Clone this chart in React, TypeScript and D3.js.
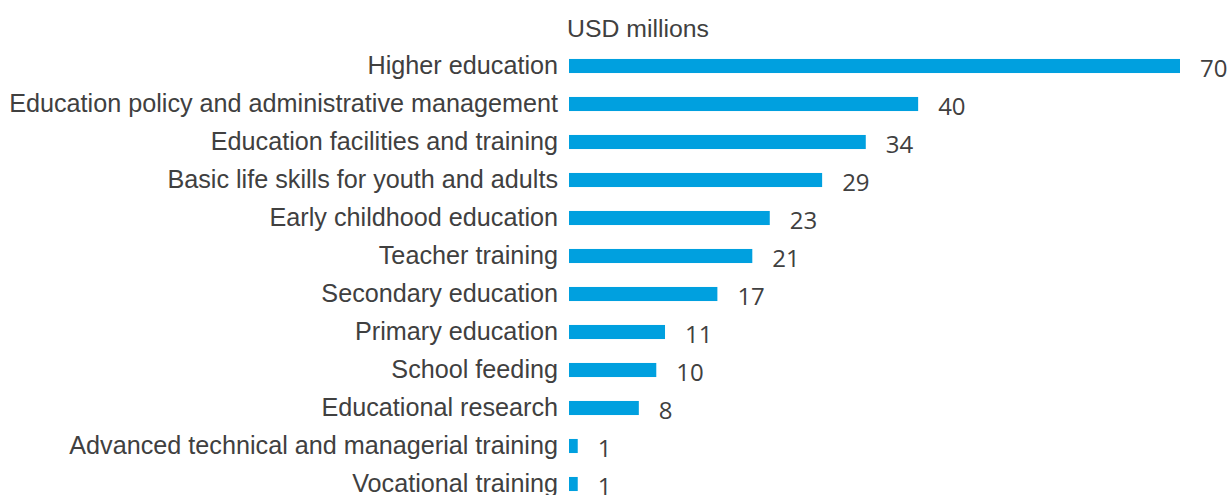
import React from "react";
import * as d3 from "d3";

const categories = [
  "Higher education",
  "Education policy and administrative management",
  "Education facilities and training",
  "Basic life skills for youth and adults",
  "Early childhood education",
  "Teacher training",
  "Secondary education",
  "Primary education",
  "School feeding",
  "Educational research",
  "Advanced technical and managerial training",
  "Vocational training",
];
const values = [70, 40, 34, 29, 23, 21, 17, 11, 10, 8, 1, 1];
const unitLabel = "USD millions";

const W = 1229;
const H = 495;
const x0 = 569;

export default function App() {
  const x = d3.scaleLinear().domain([0, 70]).range([x0, 1180]);
  const y = d3
    .scaleBand<string>()
    .domain(categories)
    .range([47, 503])
    .paddingInner(0.63)
    .paddingOuter(0.315);
  const bh = y.bandwidth();
  return (
    <svg
      width={W}
      height={H}
      style={{ position: "absolute", left: 0, top: 0, background: "#fff" }}
    >
      <text
        x={567}
        y={37}
        fontFamily="Liberation Sans, Arial, sans-serif"
        fontSize={24.8}
        fill="#404040"
      >
        {unitLabel}
      </text>
      {categories.map((c, i) => {
        const yc = (y(c) as number) + bh / 2;
        return (
          <g key={c}>
            <rect
              x={x(0)}
              y={y(c)}
              width={x(values[i]) - x(0)}
              height={bh}
              fill="#00A0DF"
            />
            <text
              x={558}
              y={yc + 8}
              textAnchor="end"
              fontFamily="Liberation Sans, Arial, sans-serif"
              fontSize={25.2}
              fill="#404040"
            >
              {c}
            </text>
            <text
              x={x(values[i]) + 20}
              y={yc + 11}
              fontFamily="Open Sans, sans-serif"
              fontSize={24}
              fill="#404040"
            >
              {values[i]}
            </text>
          </g>
        );
      })}
    </svg>
  );
}
